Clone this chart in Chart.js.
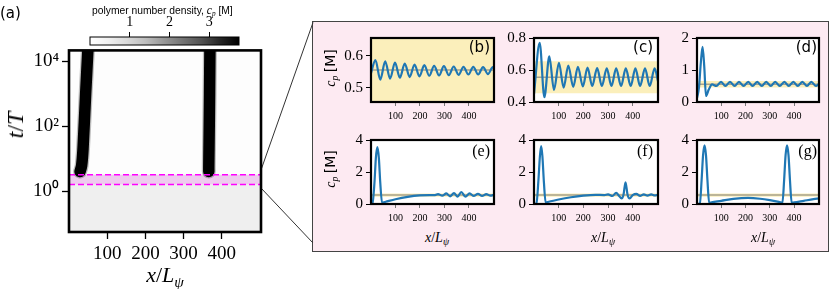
<!DOCTYPE html>
<html>
<head>
<meta charset="utf-8">
<script src="https://cdn.jsdelivr.net/npm/chart.js@4.4.1/dist/chart.umd.min.js"></script>
<style>
  html, body { margin: 0; padding: 0; background: #fff; }
  #fig { position: relative; width: 830px; height: 289px; overflow: hidden; }
  .box { position: absolute; }
  .t { position: absolute; white-space: nowrap; line-height: 1; color: #000; }
  .serif { font-family: "Liberation Serif", serif; }
  .sans { font-family: "DejaVu Sans", sans-serif; }
  .lsans { font-family: "Liberation Sans", sans-serif; }
  .ctr { transform: translate(-50%, -50%); }
  .rot { transform: translate(-50%, -50%) rotate(-90deg); }
  .sub { font-size: 0.7em; vertical-align: -0.3em; }
  #pinkBox { position: absolute; left: 312px; top: 21px; width: 517px; height: 231px;
             box-sizing: border-box; border: 1px solid #444; background: #fdeaf2; }
</style>
</head>
<body>
<div id="fig">
  <div id="pinkBox"></div>
  <svg class="box" style="left:0;top:0" width="830" height="289">
    <line x1="261" y1="170" x2="313" y2="22.5" stroke="#333" stroke-width="1"/>
    <line x1="261" y1="188" x2="313" y2="243" stroke="#333" stroke-width="1"/>
  </svg>
</div>
<script>
const X_MAX = 502.65;

// (a) kymograph
const timeTicks = [1, 100, 10000];
const posTicks = [100, 200, 300, 400];
const cbarTicks = [1, 2, 3];
const stripeT = [30000, 1000, 20, 6, 4.0];
const stripe1X = [50, 43.6, 36.7, 33, 29];
const stripe2X = [369, 368, 366.5, 366, 366];
const windowT = [1.6, 3.2];   // magenta window
const greys = ['#ffffff', '#f0f0f0', '#d9d9d9', '#bdbdbd', '#969696', '#737373', '#525252', '#252525', '#000000'];

// (b)-(g) profiles c_p(x)
const bX = [0, 18, 38, 58, 78, 98, 118, 138, 158, 178, 198, 218, 238, 258, 278, 298, 318, 338, 358, 378, 398, 418, 438, 458, 478, 498, 502.65];
const bC = [0.545, 0.586, 0.525, 0.582, 0.528, 0.578, 0.531, 0.575, 0.533, 0.572, 0.535, 0.570, 0.537, 0.568, 0.538, 0.567, 0.539, 0.566, 0.540, 0.565, 0.541, 0.565, 0.541, 0.564, 0.542, 0.564, 0.560];

const cX = [0, 23, 42, 62, 81, 101, 120, 139, 159, 178, 198, 217, 236, 256, 275, 295, 314, 333, 353, 372, 392, 411, 430, 450, 469, 489, 502.65];
const cC = [0.45, 0.77, 0.43, 0.685, 0.475, 0.645, 0.49, 0.628, 0.495, 0.62, 0.498, 0.615, 0.5, 0.612, 0.5, 0.61, 0.5, 0.61, 0.5, 0.61, 0.5, 0.61, 0.5, 0.61, 0.5, 0.61, 0.53];

const dX = [0, 8, 16, 23, 30, 37, 48, 62, 80, 99, 117, 136, 155, 173, 192, 211, 229, 248, 267, 285, 304, 322, 341, 360, 378, 397, 415, 434, 453, 471, 490, 502.65];
const dC = [0.12, 0.45, 1.25, 1.72, 1.1, 0.19, 0.38, 0.55, 0.5, 0.63, 0.5, 0.63, 0.5, 0.63, 0.5, 0.63, 0.5, 0.63, 0.5, 0.63, 0.5, 0.63, 0.5, 0.63, 0.5, 0.63, 0.5, 0.63, 0.5, 0.63, 0.5, 0.57];

const eX = [0, 6, 14, 20, 26, 32, 38, 45, 60, 100, 150, 200, 240, 258, 274, 291, 308, 323, 339, 354, 369, 386, 403, 420, 437, 454, 471, 488, 502.65];
const eC = [0, 0.03, 1.3, 2.9, 3.56, 2.9, 1.3, 0.08, 0.14, 0.3, 0.45, 0.54, 0.56, 0.55, 0.62, 0.52, 0.66, 0.48, 0.68, 0.46, 0.75, 0.46, 0.66, 0.5, 0.64, 0.5, 0.62, 0.52, 0.58];

const fX = [0, 10, 18, 24, 29, 34, 40, 47, 60, 100, 150, 200, 250, 285, 300, 318, 333, 345, 355, 363, 371, 379, 388, 400, 415, 430, 445, 460, 475, 490, 502.65];
const fC = [0, 0.03, 1.5, 3.0, 3.62, 3.0, 1.4, 0.1, 0.14, 0.28, 0.42, 0.52, 0.57, 0.56, 0.6, 0.5, 0.7, 0.5, 0.35, 0.6, 1.36, 0.6, 0.35, 0.55, 0.63, 0.5, 0.6, 0.52, 0.6, 0.53, 0.58];

const gX = [0, 12, 19, 25, 31, 37, 43, 50, 60, 100, 150, 210, 260, 300, 340, 352, 359, 365, 371, 377, 383, 390, 400, 440, 480, 502.65];
const gC = [0, 0.03, 1.5, 3.05, 3.66, 3.05, 1.5, 0.08, 0.1, 0.2, 0.32, 0.38, 0.33, 0.24, 0.12, 0.08, 1.5, 3.05, 3.66, 3.05, 1.5, 0.08, 0.1, 0.2, 0.3, 0.35];

const refBand = [0.455, 0.655];   // yellow band
const refMean = 0.555;            // grey line

Chart.defaults.font.family = '"Liberation Serif", serif';
Chart.defaults.color = '#000';
Chart.defaults.animation = false;

// background, horizontal bands (via the y scale) and thick frame round the plot area
Chart.register({
  id: 'deco',
  beforeDraw(chart, args, o) {
    const a = chart.chartArea, ctx = chart.ctx;
    ctx.save();
    if (o.gradient) {
      const g = ctx.createLinearGradient(a.left, 0, a.right, 0);
      o.gradient.forEach((c, i, arr) => g.addColorStop(i / (arr.length - 1), c));
      ctx.fillStyle = g;
    } else {
      ctx.fillStyle = o.bg || '#fff';
    }
    ctx.fillRect(a.left, a.top, a.right - a.left, a.bottom - a.top);
    (o.bands || []).forEach(b => {
      const ys = chart.scales.y;
      const y0 = b.from == null ? a.bottom : ys.getPixelForValue(b.from);
      const y1 = ys.getPixelForValue(b.to);
      ctx.fillStyle = b.color;
      ctx.fillRect(a.left, y1, a.right - a.left, y0 - y1);
    });
    ctx.restore();
  },
  afterDraw(chart, args, o) {
    const a = chart.chartArea, ctx = chart.ctx;
    ctx.save();
    ctx.lineWidth = o.frame || 2;
    ctx.strokeStyle = '#000';
    ctx.strokeRect(a.left, a.top, a.right - a.left, a.bottom - a.top);
    ctx.restore();
  }
});

const fig = document.getElementById('fig');

function place(rect, m) {
  const div = document.createElement('div');
  div.className = 'box';
  div.style.left = (rect.l - m.l) + 'px';
  div.style.top = (rect.t - m.t) + 'px';
  const cv = document.createElement('canvas');
  cv.width = m.l + rect.w + m.r;
  cv.height = m.t + rect.h + m.b;
  div.appendChild(cv);
  fig.appendChild(div);
  return cv;
}

const horiz = y => [{ x: 0, y: y }, { x: X_MAX, y: y }];
const zip = (xs, ys) => xs.map((x, i) => ({ x: x, y: ys[i] }));
const setTicks = vals => s => { s.ticks = vals.map(v => ({ value: v })); };
const sup = { 0: '\u2070', 2: '\u00b2', 4: '\u2074' };
const line = (data, extra) => Object.assign({ data: data, showLine: true, pointRadius: 0 }, extra);

// ---- (a) kymograph ----
const aRect = { l: 69, t: 50, w: 192, h: 182 };
const aM = { l: 69, t: 14, r: 8, b: 57 };
const stripe = (xs, w, col, ord) => line(zip(xs, stripeT), { borderColor: col, borderWidth: w, borderCapStyle: 'round', borderJoinStyle: 'round', tension: 0.3, clip: 0, order: ord });
new Chart(place(aRect, aM), {
  type: 'scatter',
  data: {
    datasets: [
      line(horiz(windowT[1]), { borderColor: '#ff00ff', borderWidth: 1.6, borderDash: [6, 3], order: 0 }),
      line(horiz(windowT[0]), { borderColor: '#ff00ff', borderWidth: 1.6, borderDash: [6, 3], order: 0 }),
      stripe(stripe1X, 11.5, '#000', 2),
      stripe(stripe2X, 11.5, '#000', 2),
      stripe(stripe1X, 14, 'rgba(0,0,0,0.25)', 3),
      stripe(stripe2X, 14, 'rgba(0,0,0,0.25)', 3)
    ]
  },
  options: {
    responsive: false,
    layout: { padding: { left: 0, top: aM.t, right: aM.r, bottom: 0 } },
    plugins: {
      legend: { display: false }, tooltip: { enabled: false },
      deco: {
        bg: '#fdfdfd', frame: 2.6,
        bands: [{ from: null, to: windowT[0], color: '#efefef' }, { from: windowT[0], to: windowT[1], color: '#eecbee' }]
      }
    },
    scales: {
      x: {
        type: 'linear', min: 0, max: X_MAX,
        afterBuildTicks: setTicks(posTicks),
        afterFit: s => { s.height = aM.b; },
        grid: { drawOnChartArea: false, tickLength: 7, tickColor: '#000', tickWidth: 1.3 },
        border: { display: false },
        ticks: { font: { size: 19 }, padding: 4, maxRotation: 0, autoSkip: false, callback: v => String(v) }
      },
      y: {
        type: 'logarithmic', min: Math.pow(10, -1.262), max: Math.pow(10, 4.338),
        afterBuildTicks: setTicks(timeTicks),
        afterFit: s => { s.width = aM.l; },
        grid: { drawOnChartArea: false, tickLength: 7, tickColor: '#000', tickWidth: 1.3 },
        border: { display: false },
        ticks: { font: { size: 19 }, padding: 3, autoSkip: false, callback: v => '10' + sup[Math.round(Math.log10(v))] }
      }
    }
  }
});

// ---- colour bar ----
const cbRect = { l: 90, t: 37, w: 149, h: 8 };
const cbM = { l: 10, t: 24, r: 10, b: 4 };
new Chart(place(cbRect, cbM), {
  type: 'scatter',
  data: { datasets: [] },
  options: {
    responsive: false,
    layout: { padding: { left: cbM.l, top: 0, right: cbM.r, bottom: cbM.b } },
    plugins: { legend: { display: false }, tooltip: { enabled: false }, deco: { gradient: greys, frame: 1 } },
    scales: {
      x: {
        type: 'linear', position: 'top', min: 0, max: 3.75,
        afterBuildTicks: setTicks(cbarTicks),
        afterFit: s => { s.height = cbM.t; },
        grid: { drawOnChartArea: false, tickLength: 5, tickColor: '#000' },
        border: { display: false },
        ticks: { font: { size: 14 }, padding: 1, callback: v => String(v) }
      },
      y: { display: false, min: 0, max: 1 }
    }
  }
});

// ---- (b)-(g) snapshots ----
const sm = { l: 40, t: 10, r: 6, b: 22 };
const panels = [
  { x: bX, c: bC, y: [0.455, 0.655], yt: [0.5, 0.6], rect: { l: 371, t: 36, w: 123, h: 66 } },
  { x: cX, c: cC, y: [0.4, 0.8], yt: [0.4, 0.6, 0.8], rect: { l: 534, t: 36, w: 124, h: 66 } },
  { x: dX, c: dC, y: [0, 2], yt: [0, 1, 2], rect: { l: 697, t: 36, w: 122, h: 66 } },
  { x: eX, c: eC, y: [0, 4], yt: [0, 2, 4], rect: { l: 371, t: 138, w: 123, h: 66 } },
  { x: fX, c: fC, y: [0, 4], yt: [0, 2, 4], rect: { l: 534, t: 138, w: 124, h: 66 } },
  { x: gX, c: gC, y: [0, 4], yt: [0, 2, 4], rect: { l: 697, t: 138, w: 122, h: 66 } }
];

panels.forEach(p => {
  new Chart(place(p.rect, sm), {
    type: 'scatter',
    data: {
      datasets: [
        line(zip(p.x, p.c), { borderColor: '#1f77b4', borderWidth: 2.2, cubicInterpolationMode: 'monotone', clip: 0, order: 0 }),
        line(horiz(refMean), { borderColor: 'rgba(110,110,110,0.6)', borderWidth: 1.5, order: 1 }),
        line(horiz(refBand[1]), { borderColor: 'transparent', borderWidth: 0, fill: { value: refBand[0] }, backgroundColor: '#fbefbb', order: 2 })
      ]
    },
    options: {
      responsive: false,
      layout: { padding: { left: 0, top: sm.t, right: sm.r, bottom: 0 } },
      plugins: { legend: { display: false }, tooltip: { enabled: false }, deco: { bg: '#fff', frame: 2.2 } },
      scales: {
        x: {
          type: 'linear', min: 0, max: X_MAX,
          afterBuildTicks: setTicks(posTicks),
          afterFit: s => { s.height = sm.b; },
          grid: { drawOnChartArea: false, tickLength: 4, tickColor: '#777' },
          border: { display: false },
          ticks: { font: { size: 10 }, padding: 4, maxRotation: 0, autoSkip: false, callback: v => String(v) }
        },
        y: {
          type: 'linear', min: p.y[0], max: p.y[1],
          afterBuildTicks: setTicks(p.yt),
          afterFit: s => { s.width = sm.l; },
          grid: { drawOnChartArea: false, tickLength: 5, tickColor: '#000' },
          border: { display: false },
          ticks: { font: { size: 15 }, padding: 3, autoSkip: false, callback: v => String(v) }
        }
      }
    }
  });
});

// ---- text ----
const xl = '<i>x</i>/<i>L</i><span class="sub"><i>\u03c8</i></span>';
const cp = '<i class="serif">c</i><span class="sub serif"><i>p</i></span> <span class="sans">[M]</span>';
const labels = [
  ['t sans', 'left:0;top:6px;font-size:15px', '(a)'],
  ['t lsans', 'left:92px;top:5px;font-size:10.3px', 'polymer number density, <i class="serif" style="font-size:11.5px">c</i><span class="sub serif"><i>p</i></span> [M]'],
  ['t serif rot', 'left:15px;top:125px;font-size:24px', '<i>t</i>/<i>T</i>'],
  ['t serif ctr', 'left:165px;top:277px;font-size:22px', xl],
  ['t rot', 'left:331px;top:68px;font-size:14px', cp],
  ['t rot', 'left:331px;top:169px;font-size:14px', cp],
  ['t serif ctr', 'left:437px;top:239px;font-size:14px', xl],
  ['t serif ctr', 'left:603px;top:239px;font-size:14px', xl],
  ['t serif ctr', 'left:763px;top:239px;font-size:14px', xl],
  ['t sans', 'right:340px;top:40px;font-size:15px', '(b)'],
  ['t sans', 'right:177px;top:40px;font-size:15px', '(c)'],
  ['t sans', 'right:13px;top:40px;font-size:15px', '(d)'],
  ['t serif', 'right:340px;top:143px;font-size:16px', '(e)'],
  ['t serif', 'right:177px;top:143px;font-size:16px', '(f)'],
  ['t serif', 'right:13px;top:143px;font-size:16px', '(g)']
];
labels.forEach(l => {
  const d = document.createElement('div');
  d.className = l[0];
  d.style.cssText = l[1];
  d.innerHTML = l[2];
  fig.appendChild(d);
});
</script>
</body>
</html>
